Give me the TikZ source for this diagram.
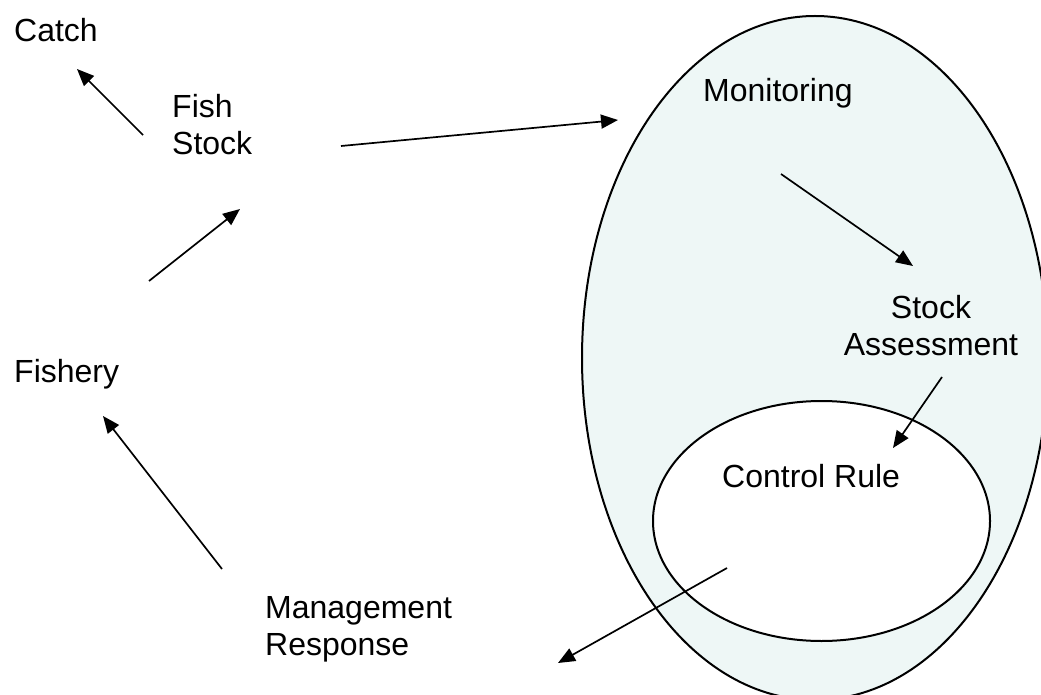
\documentclass[tikz,border=0pt]{standalone}
\usepackage{fontspec}
\setmainfont{Liberation Sans}
\usetikzlibrary{arrows.meta}
\definecolor{pale}{RGB}{238,247,246}
\begin{document}
\begin{tikzpicture}[x=1pt,y=-1pt,
  lbl/.style={anchor=base west,inner sep=0pt,font=\fontsize{32}{37}\selectfont,align=left},
  clbl/.style={anchor=base,inner sep=0pt,font=\fontsize{32}{37}\selectfont,align=center},
  conn/.style={line width=1.7pt,-{Triangle[length=17pt,width=14pt]}},
  ring/.style={draw=black,line width=2pt}]
\useasboundingbox (0,0) rectangle (1041,695);
% ellipses
\draw[ring,fill=pale] (815,358) ellipse [x radius=233,y radius=342];
\draw[ring,fill=white] (821.5,521) ellipse [x radius=168.5,y radius=120];
% labels (multi-line nodes: base = last line)
\node[lbl] (catch) at (14,42) {Catch};
\node[lbl] (fishstock) at (172,155) {Fish\\Stock};
\node[lbl] (fishery) at (14,382) {Fishery};
\node[lbl] (mgmt) at (265,655) {Management\\Response};
\node[lbl] (monitor) at (703,102) {Monitoring};
\node[clbl] (assess) at (931,355) {Stock\\Assessment};
\node[lbl] (control) at (722,487) {Control Rule};
% connector ends
\coordinate (c1s) at (143,135); \coordinate (c1e) at (77,69);
\coordinate (c2s) at (149,281); \coordinate (c2e) at (240,209);
\coordinate (c3s) at (341,146); \coordinate (c3e) at (618,120);
\coordinate (c4s) at (781,174); \coordinate (c4e) at (913,266);
\coordinate (c5s) at (942,377); \coordinate (c5e) at (893,448);
\coordinate (c6s) at (727,568); \coordinate (c6e) at (558,663);
\coordinate (c7s) at (222,569); \coordinate (c7e) at (103,416);
\draw[conn] (c1s) -- (c1e);
\draw[conn] (c2s) -- (c2e);
\draw[conn] (c3s) -- (c3e);
\draw[conn] (c4s) -- (c4e);
\draw[conn] (c5s) -- (c5e);
\draw[conn] (c6s) -- (c6e);
\draw[conn] (c7s) -- (c7e);
\end{tikzpicture}
\end{document}
